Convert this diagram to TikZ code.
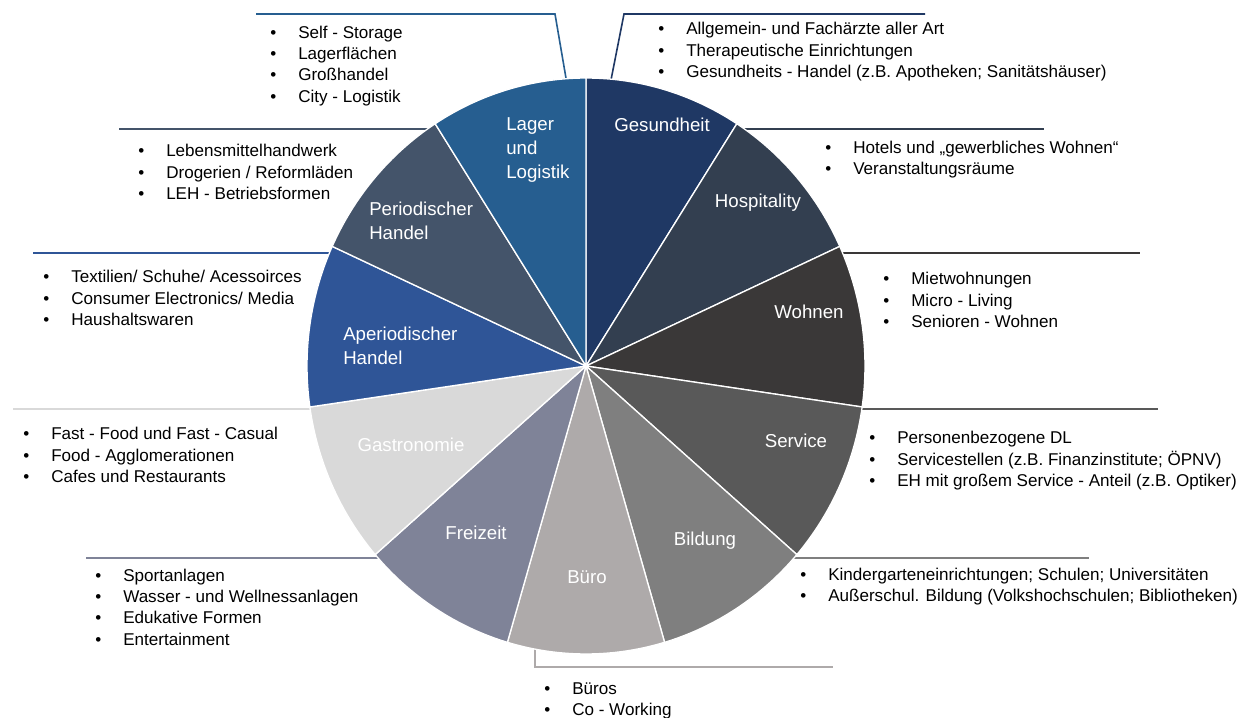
\documentclass[tikz,border=0pt]{standalone}
\usepackage{fontspec}
\setmainfont{Liberation Sans}
\usetikzlibrary{positioning}

% Farben der Segmente
\definecolor{gesund}{RGB}{31,56,100}
\definecolor{hosp}{RGB}{51,63,80}
\definecolor{wohnen}{RGB}{58,56,56}
\definecolor{service}{RGB}{89,89,89}
\definecolor{bildung}{RGB}{127,127,127}
\definecolor{buero}{RGB}{174,170,170}
\definecolor{freizeit}{RGB}{127,131,152}
\definecolor{gastro}{RGB}{217,217,217}
\definecolor{aperiod}{RGB}{47,85,151}
\definecolor{period}{RGB}{68,84,106}
\definecolor{lager}{RGB}{38,94,144}

% Aufzaehlungspunkt mit festem Einzug
\newcommand{\itm}[1]{\strut\makebox[21pt][l]{\textbullet}#1}

\begin{document}
\begin{tikzpicture}[x=0.75pt,y=-0.75pt,
  slice/.style={draw=white,line width=1pt},
  lbl/.style={text=white,inner sep=0pt,font=\fontsize{14}{18}\selectfont},
  lead/.style={line width=1.2pt},
  items/.style={align=left,anchor=west,inner sep=0pt,font=\fontsize{12.8}{16}\selectfont}]

  \useasboundingbox (0,0) rectangle (1247,718);
  \fill[white] (0,0) rectangle (1247,718);

  \coordinate (M) at (586,366);
  \def\rx{279}
  \def\ry{288}

  % Hinweislinien (liegen unter der Torte)
  \coordinate (lag-r) at (567,84);
  \coordinate (lag-k) at (555,14);
  \coordinate (lag-e) at (256,14);
  \draw[lead,lager] (lag-r) -- (lag-k) -- (lag-e);

  \coordinate (ges-r) at (610,85);
  \coordinate (ges-k) at (624,14);
  \coordinate (ges-e) at (925,14);
  \draw[lead,gesund] (ges-r) -- (ges-k) -- (ges-e);

  \coordinate (per-r) at (440,129);
  \coordinate (per-e) at (119,129);
  \draw[lead,period] (per-r) -- (per-e);

  \coordinate (hos-r) at (738,129);
  \coordinate (hos-e) at (1044,129);
  \draw[lead,hosp] (hos-r) -- (hos-e);

  \coordinate (ape-r) at (336,253);
  \coordinate (ape-e) at (33,253);
  \draw[lead,aperiod] (ape-r) -- (ape-e);

  \coordinate (woh-r) at (836,253);
  \coordinate (woh-e) at (1140,253);
  \draw[lead,wohnen] (woh-r) -- (woh-e);

  \coordinate (gas-r) at (316,409);
  \coordinate (gas-e) at (13,409);
  \draw[lead,gastro] (gas-r) -- (gas-e);

  \coordinate (ser-r) at (856,409);
  \coordinate (ser-e) at (1158,409);
  \draw[lead,service] (ser-r) -- (ser-e);

  \coordinate (fre-r) at (384,558);
  \coordinate (fre-e) at (86,558);
  \draw[lead,freizeit] (fre-r) -- (fre-e);

  \coordinate (bil-r) at (788,558);
  \coordinate (bil-e) at (1089,558);
  \draw[lead,bildung] (bil-r) -- (bil-e);

  \coordinate (bue-r) at (535,640);
  \coordinate (bue-k) at (535,667);
  \coordinate (bue-e) at (833,667);
  \draw[lead,buero] (bue-r) -- (bue-k) -- (bue-e);

  % Tortensegmente, im Uhrzeigersinn ab 12 Uhr
  \foreach \col/\i in {gesund/0,hosp/1,wohnen/2,service/3,bildung/4,buero/5,
                       freizeit/6,gastro/7,aperiod/8,period/9,lager/10} {
    \pgfmathsetmacro\a{90-\i*360/11}
    \pgfmathsetmacro\b{\a-360/11}
    \fill[\col,slice] (M) -- ++({\rx*cos(\a)},{-\ry*sin(\a)})
      arc[start angle=-\a,end angle=-\b,x radius=\rx,y radius=\ry] -- cycle;
  }

  % Beschriftung der Segmente
  \node[lbl] (ges) at (662,125) {Gesundheit};
  \node[lbl] (hos) at (758,203) {Hospitality};
  \node[lbl] (woh) at (809,312) {Wohnen};
  \node[lbl] (ser) at (796,441) {Service};
  \node[lbl] (bil) at (705,541) {Bildung};
  \node[lbl] (bue) at (587,577) {Büro};
  \node[lbl] (fre) at (476,533) {Freizeit};
  \node[lbl] (gas) at (411,445) {Gastronomie};
  \node[lbl,align=left,anchor=west] (ape) at (343,346) {Aperiodischer\\Handel};
  \node[lbl,align=left,anchor=west] (per) at (369,221) {Periodischer\\Handel};
  \node[lbl,align=left,anchor=west] (lag) at (506,150) {Lager\\und\\Logistik};

  % Aufzaehlungen
  \node[items] (lag-l) at (270,66) {\itm{Self - Storage}\\\itm{Lagerflächen}\\
    \itm{Großhandel}\\\itm{City - Logistik}};
  \node[items] (ges-l) at (658,52) {\itm{Allgemein- und Fachärzte aller Art}\\
    \itm{Therapeutische Einrichtungen}\\
    \itm{Gesundheits - Handel (z.B. Apotheken; Sanitätshäuser)}};
  \node[items] (per-l) at (138,174) {\itm{Lebensmittelhandwerk}\\
    \itm{Drogerien / Reformläden}\\\itm{LEH - Betriebsformen}};
  \node[items] (hos-l) at (825,160) {\itm{Hotels und „gewerbliches Wohnen“}\\
    \itm{Veranstaltungsräume}};
  \node[items] (ape-l) at (43,300) {\itm{Textilien/ Schuhe/ Acessoirces}\\
    \itm{Consumer Electronics/ Media}\\\itm{Haushaltswaren}};
  \node[items] (woh-l) at (883,302) {\itm{Mietwohnungen}\\\itm{Micro - Living}\\
    \itm{Senioren - Wohnen}};
  \node[items] (gas-l) at (23,457) {\itm{Fast - Food und Fast - Casual}\\
    \itm{Food - Agglomerationen}\\\itm{Cafes und Restaurants}};
  \node[items] (ser-l) at (869,461) {\itm{Personenbezogene DL}\\
    \itm{Servicestellen (z.B. Finanzinstitute; ÖPNV)}\\
    \itm{EH mit großem Service - Anteil (z.B. Optiker)}};
  \node[items] (fre-l) at (95,609) {\itm{Sportanlagen}\\\itm{Wasser - und Wellnessanlagen}\\
    \itm{Edukative Formen}\\\itm{Entertainment}};
  \node[items] (bil-l) at (800,587) {\itm{Kindergarteneinrichtungen; Schulen; Universitäten}\\
    \itm{Außerschul. Bildung (Volkshochschulen; Bibliotheken)}};
  \node[items] (bue-l) at (544,701) {\itm{Büros}\\\itm{Co - Working}};

\end{tikzpicture}
\end{document}
